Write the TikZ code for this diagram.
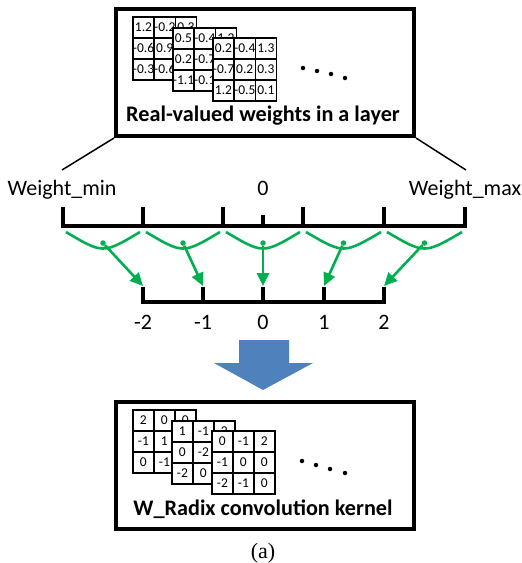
\documentclass[tikz,border=0pt]{standalone}
\usepackage{fontspec}
\setmainfont{Carlito}
\newfontfamily\capfont{Liberation Serif}
\usetikzlibrary{matrix, positioning, arrows.meta}
\definecolor{qgreen}{RGB}{0,176,80}
\definecolor{qblue}{RGB}{79,129,189}
\tikzset{
  weights/.style={matrix of nodes, anchor=north west, fill=white, inner sep=0pt,
    column sep=-1.4pt, row sep=-1.4pt, nodes in empty cells,
    nodes={draw, anchor=center, line width=1.4pt, minimum size=21pt, inner sep=0pt,
      font=\fontsize{13.5}{13.5}\selectfont}},
  panel/.style={draw, line width=4pt, minimum width=298pt, minimum height=127pt},
  title/.style={anchor=base, font=\bfseries\fontsize{22.2}{22.2}\selectfont},
  lbl/.style={anchor=base, font=\fontsize{22}{22}\selectfont},
  axis/.style={line width=4pt},
  quant/.style={qgreen, line width=2.6pt},
  mapto/.style={quant, -{Triangle[length=13pt,width=12pt]}},
  qdot/.style={circle, fill=qgreen, inner sep=0pt, minimum size=5.5pt},
  ell/.style={circle, fill=black, inner sep=0pt, minimum size=4.5pt},
}
\begin{document}
\begin{tikzpicture}[x=1pt, y=-1pt]
\useasboundingbox (0,0) rectangle (522,563);

% real-valued weights
\node[panel] (toppanel) at (265,72.5) {};
\matrix (w1) [weights] at (132,16)
  { 1.2 & -0.2 & 0.3 \\ -0.6 & 0.9 & \\ -0.3 & -0.6 & \\};
\matrix (w2) [weights] at (172,27)
  { 0.5 & -0.4 & 1.2 \\ 0.2 & -0.7 & \\ -1.1 & -0.1 & \\};
\matrix (w3) [weights] at (212,37)
  { 0.2 & -0.4 & 1.3 \\ -0.7 & 0.2 & 0.3 \\ 1.2 & -0.5 & 0.1 \\};
\foreach \x/\y [count=\i] in {303/68, 317/71, 331/74, 345/78}
  \node[ell] (te\i) at (\x,\y) {};
\node[title] (toptitle) at (263,121) {Real-valued weights in a layer};

% range of the weights
\coordinate (lmin) at (62,170);
\coordinate (lmax) at (466,170);
\draw[line width=1.5pt] (toppanel.south west) -- (lmin);
\draw[line width=1.5pt] (toppanel.south east) -- (lmax);
\node[lbl] (wmin) at (62,195) {Weight\_min};
\node[lbl] (wzero) at (263,195) {0};
\node[lbl] (wmax) at (465,195) {Weight\_max};

\foreach \x [count=\i] in {63,143,223,303,384,465}
  \coordinate (u\i) at (\x,207);
\draw[axis] (u1) -- ++(0,19) -| (u6);
\foreach \i in {2,...,5}
  \draw[axis] (u\i) -- ++(0,19);
\coordinate (uz) at (263,215);
\draw[axis] (uz) -- ++(0,11);

% quantized levels
\foreach \x/\t [count=\i] in {143/-2, 203/-1, 263/0, 324/1, 384/2} {
  \coordinate (k\i) at (\x,287);
  \node[lbl] (n\i) at (\x,329) {\t};
}
\draw[axis] (k1) -- ++(0,15) -| (k5);
\foreach \i in {2,...,4}
  \draw[axis] (k\i) -- ++(0,15);

\foreach \a/\b [count=\i] in {63/143, 143/223, 223/303, 303/384, 384/465} {
  \draw[quant] (\a+3,232) .. controls ({(\a+\b)/2},254) .. (\b-3,232);
  \node[qdot] (d\i) at ({(\a+\b)/2},243) {};
  \draw[mapto] (d\i) -- ([yshift=1pt]k\i);
}

% big arrow
\fill[qblue] (239,340) -- (289,340) -- (289,363) -- (313,363) -- (263,390)
  -- (214,363) -- (239,363) -- cycle;

% radix kernel
\node[panel] (botpanel) at (265,465) {};
\matrix (r1) [weights] at (132,409)
  { 2 & 0 & 0 \\ -1 & 1 & \\ 0 & -1 & \\};
\matrix (r2) [weights] at (171,420)
  { 1 & -1 & 2 \\ 0 & -2 & \\ -2 & 0 & \\};
\matrix (r3) [weights] at (211,430)
  { 0 & -1 & 2 \\ -1 & 0 & 0 \\ -2 & -1 & 0 \\};
\foreach \x/\y [count=\i] in {302/461, 316/465, 330/469, 345/473}
  \node[ell] (be\i) at (\x,\y) {};
\node[title] (bottitle) at (263,515) {W\_Radix convolution kernel};

\node[anchor=base, font=\capfont\fontsize{22}{22}\selectfont] (cap) at (263,558) {(a)};
\end{tikzpicture}
\end{document}
